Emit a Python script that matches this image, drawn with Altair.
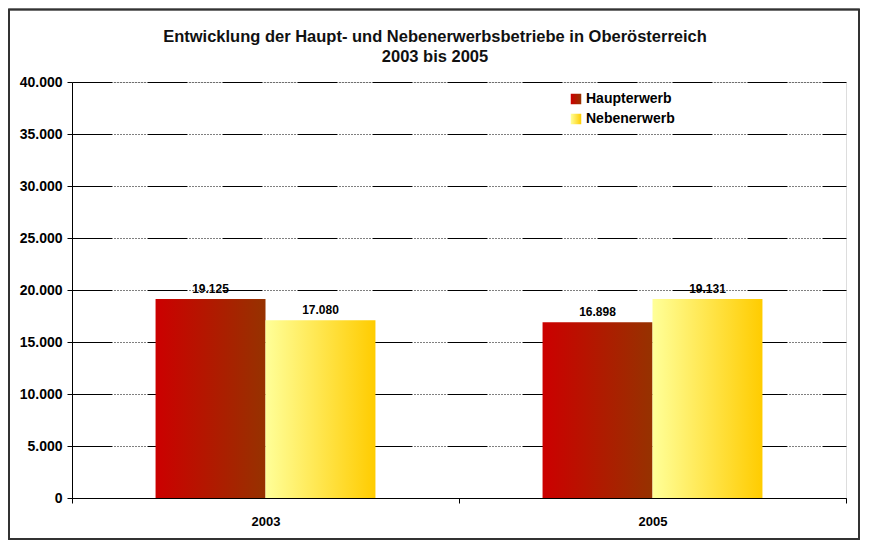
import altair as alt
import pandas as pd

years = ["2003", "2003", "2005", "2005"]
series = ["Haupterwerb", "Nebenerwerb", "Haupterwerb", "Nebenerwerb"]
values = [19125, 17080, 16898, 19131]

series_names = ["Haupterwerb", "Nebenerwerb"]
grad_haupt = "{gradient:'linear',x1:0,y1:0,x2:1,y2:0,stops:[{offset:0,color:'#cc0000'},{offset:1,color:'#963200'}]}"
grad_neben = "{gradient:'linear',x1:0,y1:0,x2:1,y2:0,stops:[{offset:0,color:'#ffff99'},{offset:1,color:'#ffcc00'}]}"

df = pd.DataFrame({"year": years, "series": series, "value": values})

FONT = "Liberation Sans"
W, H = 774, 416

x_enc = alt.X("year:N", title=None,
              scale=alt.Scale(paddingInner=0, paddingOuter=0),
              axis=alt.Axis(labelAngle=0, tickBand="extent", tickSize=5,
                            labelPadding=12, domainColor="black", tickColor="black",
                            labelFont=FONT, labelFontSize=13, labelFontWeight="bold",
                            labelColor="black"))
xoff = alt.XOffset("series:N", scale=alt.Scale(domain=series_names, paddingInner=0, paddingOuter=0.76))
y_enc = alt.Y("value:Q", title=None,
              scale=alt.Scale(domain=[0, 40000]),
              axis=alt.Axis(values=list(range(0, 40001, 5000)),
                            labelExpr="replace(format(datum.value, ','), ',', '.')",
                            tickSize=5, labelPadding=5, domainColor="black", tickColor="black",
                            grid=True, gridColor="black", gridWidth=1,
                            gridDash=[40, 2] + [1, 2] * 11,
                            labelFont=FONT, labelFontSize=14, labelFontWeight="bold",
                            labelColor="black"))

bars = alt.Chart(df).mark_bar().encode(
    x=x_enc, xOffset=xoff, y=y_enc,
    color=alt.Color("series:N",
                    scale=alt.Scale(domain=series_names,
                                    range=[alt.ExprRef(expr=grad_haupt), alt.ExprRef(expr=grad_neben)]),
                    legend=alt.Legend(title=None, orient="none", legendX=497, legendY=10,
                                      symbolType="square", symbolSize=110, symbolStrokeWidth=0,
                                      labelFont=FONT, labelFontSize=14, labelFontWeight="bold",
                                      labelColor="black", rowPadding=6, padding=0, labelOffset=3)),
)

labels = alt.Chart(df).transform_calculate(
    lab="replace(format(datum.value, ','), ',', '.')"
).mark_text(dy=-10, font=FONT, fontSize=12, fontWeight="bold", color="black").encode(
    x=alt.X("year:N"), xOffset=xoff, y=alt.Y("value:Q"), text="lab:N"
)

frame = alt.Chart(df).mark_rect(fill="transparent", stroke="#333333", strokeWidth=1.5).encode(
    x=alt.value(-63), x2=alt.value(787), y=alt.value(-72.5), y2=alt.value(457)
)

chart = alt.layer(frame, bars, labels).properties(
    width=W, height=H,
    autosize=alt.AutoSizeParams(type="none"),
    padding={"left": 64, "top": 74, "right": 14, "bottom": 42},
    title=alt.TitleParams(
        text=["Entwicklung der Haupt- und Nebenerwerbsbetriebe in Oberösterreich", "2003 bis 2005"],
        font=FONT, fontSize=16.5, fontWeight="bold", color="#111111",
        anchor="middle", frame="group", offset=-57, lineHeight=20, dx=-24,
    ),
).configure_view(stroke="transparent").configure(background="white")

chart.save("out.html", embed_options={"renderer": "svg", "actions": False})
